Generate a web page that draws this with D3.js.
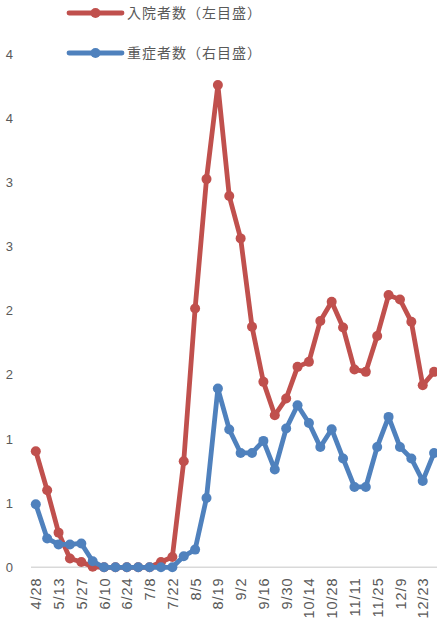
<!DOCTYPE html>
<html><head><meta charset="utf-8">
<script src="https://cdn.jsdelivr.net/npm/d3@7"></script>
<style>html,body{margin:0;padding:0;background:#fff;}svg{display:block;}</style>
</head><body>
<svg id="c" width="437" height="620"></svg>
<script>
const categories = ["4/28","5/6","5/13","5/20","5/27","6/3","6/10","6/17","6/24","7/1","7/8","7/15","7/22","7/29","8/5","8/12","8/19","8/26","9/2","9/9","9/16","9/23","9/30","10/7","10/14","10/21","10/28","11/4","11/11","11/18","11/25","12/2","12/9","12/16","12/23","12/30"];
const hospitalized = [0.904,0.600,0.270,0.068,0.041,0.004,0,0,0,0,0,0.041,0.080,0.826,2.017,3.025,3.758,2.893,2.563,1.874,1.445,1.185,1.315,1.562,1.601,1.920,2.069,1.869,1.542,1.523,1.803,2.121,2.087,1.913,1.419,1.523];
const severe = [0.491,0.225,0.178,0.178,0.186,0.047,0,0,0,0,0,0,0,0.086,0.138,0.540,1.393,1.074,0.891,0.891,0.985,0.762,1.081,1.263,1.125,0.938,1.076,0.848,0.626,0.626,0.938,1.172,0.938,0.848,0.673,0.891];
const yTicks = [0,0.5,1,1.5,2,2.5,3,3.5,4];
const seriesNames = ["入院者数（左目盛）","重症者数（右目盛）"];
const colors = ["#C0504D","#4F81BD"];

const svg = d3.select("#c");
const x = d3.scalePoint().domain(categories).range([35.8, 35.8 + 11.38*(categories.length-1)]);
const y = d3.scaleLinear().domain([0,4]).range([567.3, 54]);

// baseline
svg.append("line").attr("x1",31).attr("x2",437).attr("y1",y(0)).attr("y2",y(0))
  .attr("stroke","#D9D9D9").attr("stroke-width",1.5);

// y axis labels
const yAxis = d3.axisLeft(y).tickValues(yTicks).tickSize(0).tickPadding(0)
  .tickFormat(d => String(Math.floor(d + 0.5)));
const yg = svg.append("g").attr("transform","translate(13,0)").call(yAxis);
yg.select(".domain").remove();
yg.selectAll("text").attr("fill","#595959").attr("font-family","Liberation Sans, Arial, sans-serif").attr("font-size","13px");

// x axis labels
const xAxis = d3.axisBottom(x).tickValues(categories.filter((d,i)=>i%2===0)).tickSize(0).tickPadding(0);
const xg = svg.append("g").attr("transform",`translate(0,${y(0)})`).call(xAxis);
xg.select(".domain").remove();
xg.selectAll("text")
  .attr("fill","#595959").attr("font-family","Liberation Sans, Arial, sans-serif").attr("font-size","14.5px")
  .attr("letter-spacing","1px")
  .attr("transform","rotate(-90)").attr("text-anchor","end").attr("x",-10).attr("y",0).attr("dy","0.35em");

// series
svg.append("clipPath").attr("id","pc").append("rect").attr("x",0).attr("y",0).attr("width",437).attr("height",620);
const line = d3.line().x((d,i)=>x(categories[i])).y(d=>y(d));
const data = [hospitalized, severe];
data.forEach((s,k)=>{
  const g = svg.append("g").attr("clip-path","url(#pc)");
  g.append("path").datum(s).attr("d",line).attr("fill","none").attr("stroke",colors[k])
    .attr("stroke-width",4.8).attr("stroke-linejoin","round").attr("stroke-linecap","round");
  g.selectAll("circle").data(s).join("circle").attr("cx",(d,i)=>x(categories[i])).attr("cy",d=>y(d))
    .attr("r",5).attr("fill",colors[k]);
});

// legend
const legY = [13, 53];
seriesNames.forEach((n,k)=>{
  const g = svg.append("g");
  g.append("line").attr("x1",69).attr("x2",122).attr("y1",legY[k]).attr("y2",legY[k])
    .attr("stroke",colors[k]).attr("stroke-width",4.8).attr("stroke-linecap","round");
  g.append("circle").attr("cx",95.5).attr("cy",legY[k]).attr("r",5).attr("fill",colors[k]);
  g.append("text").attr("x",127).attr("y",legY[k]).attr("dy","0.35em").text(n)
    .attr("fill","#595959").attr("font-family","Noto Sans CJK JP, sans-serif").attr("font-size","14px")
    .attr("letter-spacing","1px");
});
</script>
</body></html>
